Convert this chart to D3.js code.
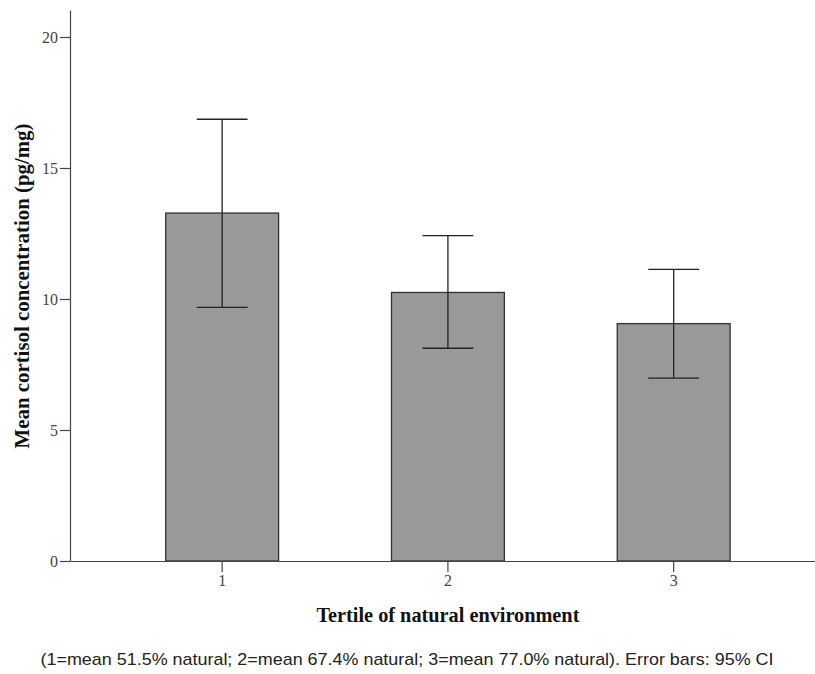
<!DOCTYPE html>
<html>
<head>
<meta charset="utf-8">
<script src="https://cdn.jsdelivr.net/npm/d3@7"></script>
<style>
  body { margin: 0; background: #fff; }
  .tick text { font-family: "Liberation Serif", "Times New Roman", serif; font-size: 16px; fill: #444; }
  .axis-title { font-family: "Liberation Serif", "Times New Roman", serif; font-weight: bold; fill: #111; }
  .note { font-family: "Liberation Sans", Arial, sans-serif; font-size: 17px; fill: #222; }
</style>
</head>
<body>
<svg id="chart"></svg>
<script>
// Data
const tertiles = ["1", "2", "3"];
const means = [13.28, 10.25, 9.06];
const ciLower = [9.68, 8.12, 6.98];
const ciUpper = [16.86, 12.42, 11.13];
const yTicks = [0, 5, 10, 15, 20];

const data = tertiles.map((t, i) => ({ tertile: t, mean: means[i], lo: ciLower[i], hi: ciUpper[i] }));

const width = 815, height = 674;
const margin = { top: 10, right: 0, bottom: 113, left: 70 };
const innerW = width - margin.left - margin.right;
const innerH = height - margin.top - margin.bottom;

const svg = d3.select("#chart").attr("width", width).attr("height", height);
const chart = svg.append("g").attr("transform", `translate(${margin.left},${margin.top})`);

const xScale = d3.scaleBand().domain(tertiles).range([0, innerW])
  .paddingInner(0.5).paddingOuter(0.4).align(0.53);

// axis top sits at ~21 on the value scale
const yScale = d3.scaleLinear().domain([0, 21.03]).range([innerH, 0]);

// Bars
chart.selectAll(".bar")
  .data(data)
  .join("rect")
  .attr("class", "bar")
  .attr("x", d => xScale(d.tertile))
  .attr("y", d => yScale(d.mean))
  .attr("width", xScale.bandwidth())
  .attr("height", d => yScale(0) - yScale(d.mean))
  .attr("fill", "#999999")
  .attr("stroke", "#333")
  .attr("stroke-width", 1.3);

// Error bars
const capW = xScale.bandwidth() * 0.45;
const err = chart.selectAll(".err").data(data).join("g").attr("class", "err")
  .attr("stroke", "#222").attr("stroke-width", 1.3);
err.append("line")
  .attr("x1", d => xScale(d.tertile) + xScale.bandwidth() / 2)
  .attr("x2", d => xScale(d.tertile) + xScale.bandwidth() / 2)
  .attr("y1", d => yScale(d.lo))
  .attr("y2", d => yScale(d.hi));
["lo", "hi"].forEach(k => {
  err.append("line")
    .attr("x1", d => xScale(d.tertile) + xScale.bandwidth() / 2 - capW / 2)
    .attr("x2", d => xScale(d.tertile) + xScale.bandwidth() / 2 + capW / 2)
    .attr("y1", d => yScale(d[k]))
    .attr("y2", d => yScale(d[k]));
});

// Axes
chart.append("g").attr("class", "axis y-axis")
  .call(d3.axisLeft(yScale).tickValues(yTicks).tickSize(10).tickPadding(2).tickSizeOuter(0));
chart.append("g").attr("class", "axis x-axis")
  .attr("transform", `translate(0,${innerH})`)
  .call(d3.axisBottom(xScale).tickSize(11).tickPadding(3).tickSizeOuter(0));
svg.selectAll(".axis path, .axis line").attr("stroke", "#444").attr("stroke-width", 1.2);

// Titles
chart.append("text")
  .attr("class", "axis-title")
  .attr("x", xScale("2") + xScale.bandwidth() / 2)
  .attr("y", innerH + 61)
  .attr("text-anchor", "middle")
  .style("font-size", "21px")
  .attr("textLength", 263)
  .attr("lengthAdjust", "spacingAndGlyphs")
  .text("Tertile of natural environment");

svg.append("text")
  .attr("class", "axis-title")
  .attr("transform", "translate(29,286) rotate(-90)")
  .attr("text-anchor", "middle")
  .style("font-size", "20px")
  .attr("textLength", 325)
  .attr("lengthAdjust", "spacingAndGlyphs")
  .text("Mean cortisol concentration (pg/mg)");

svg.append("text")
  .attr("class", "note")
  .attr("x", 407)
  .attr("y", 665)
  .attr("text-anchor", "middle")
  .attr("textLength", 733)
  .attr("lengthAdjust", "spacingAndGlyphs")
  .text("(1=mean 51.5% natural; 2=mean 67.4% natural; 3=mean 77.0% natural). Error bars: 95% CI");
</script>
</body>
</html>
